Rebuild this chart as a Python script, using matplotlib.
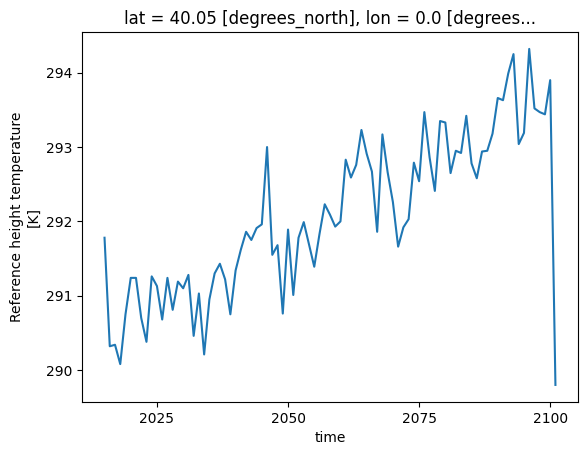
import matplotlib
matplotlib.use("Agg")
import matplotlib.pyplot as plt

years = list(range(2015, 2102))
temperature = [
    291.78, 290.32, 290.34, 290.08, 290.75, 291.24, 291.24, 290.70, 290.38, 291.26,
    291.13, 290.68, 291.24, 290.81, 291.19, 291.10, 291.28, 290.46, 291.03, 290.21,
    290.95, 291.30, 291.43, 291.22, 290.75, 291.34, 291.62, 291.86, 291.75, 291.91,
    291.96, 293.00, 291.55, 291.68, 290.76, 291.89, 291.01, 291.78, 291.99, 291.69,
    291.39, 291.83, 292.23, 292.09, 291.93, 292.00, 292.83, 292.59, 292.76, 293.23,
    292.91, 292.67, 291.86, 293.17, 292.66, 292.26, 291.66, 291.92, 292.03, 292.79,
    292.54, 293.47, 292.86, 292.41, 293.35, 293.33, 292.65, 292.95, 292.92, 293.42,
    292.78, 292.58, 292.94, 292.95, 293.18, 293.66, 293.63, 293.99, 294.25, 293.04,
    293.19, 294.32, 293.52, 293.47, 293.44, 293.90, 289.80,
]
xticks = [2025, 2050, 2075, 2100]

fig, ax = plt.subplots(figsize=(6.4, 4.8), dpi=100)
ax.plot(years, temperature, color="C0")
ax.set_xticks(xticks)
ax.set_xticklabels([str(t) for t in xticks])
ax.set_xlabel("time")
ax.set_ylabel("Reference height temperature\n[K]")
ax.set_title("lat = 40.05 [degrees_north], lon = 0.0 [degrees...")
fig.savefig("out.png", dpi=100, bbox_inches="tight")
